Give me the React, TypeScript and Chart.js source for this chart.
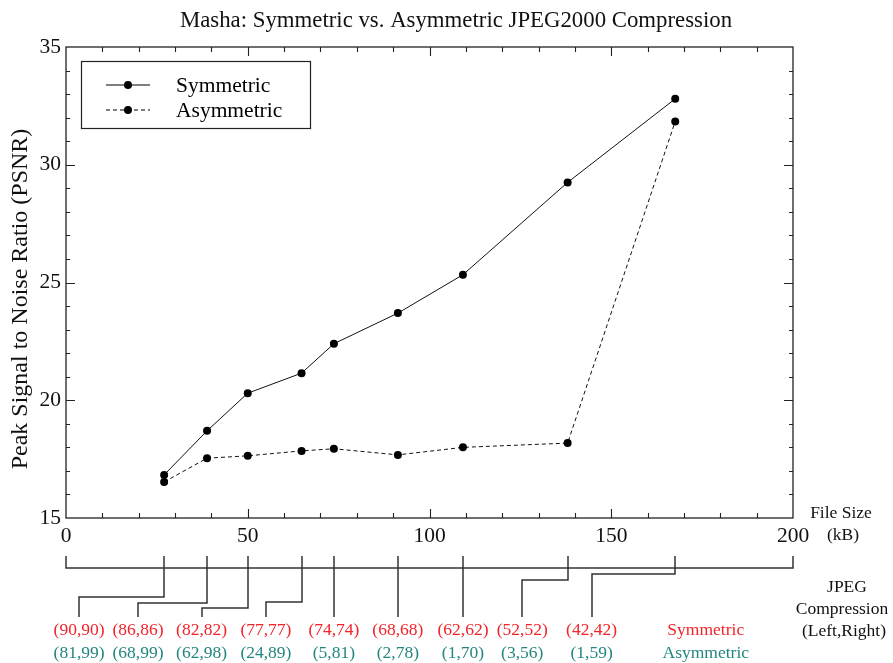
import React, { useEffect, useRef } from "react";
import { Chart, registerables } from "chart.js";

Chart.register(...registerables);

// ---------- data ----------
const fileSizesKB = [27, 38.8, 50, 64.8, 73.7, 91.3, 109.2, 138, 167.6];
const symmetricPsnr = [16.83, 18.7, 20.3, 21.15, 22.4, 23.7, 25.33, 29.25, 32.8];
const asymmetricPsnr = [16.53, 17.54, 17.64, 17.85, 17.94, 17.68, 18.0, 18.18, 31.84];
const symmetricQuality = ["(90,90)", "(86,86)", "(82,82)", "(77,77)", "(74,74)", "(68,68)", "(62,62)", "(52,52)", "(42,42)"];
const asymmetricQuality = ["(81,99)", "(68,99)", "(62,98)", "(24,89)", "(5,81)", "(2,78)", "(1,70)", "(3,56)", "(1,59)"];
const seriesNames = ["Symmetric", "Asymmetric"];
const xTickValues = [0, 50, 100, 150, 200];
const yTickValues = [15, 20, 25, 30, 35];

const TITLE = "Masha: Symmetric vs. Asymmetric JPEG2000 Compression";
const Y_TITLE = "Peak Signal to Noise Ratio (PSNR)";

// ---------- layout / style (not data) ----------
const FONT = "'Liberation Serif', 'Times New Roman', serif";
const RED = "#f2242a";
const TEAL = "#23877f";
// label centres for the compression annotations, in kB along the axis
const labelCentersKB = [3.6, 19.8, 37.3, 55.0, 73.7, 91.3, 109.2, 125.5, 144.6];
// how far below the bracket line each connector elbows (px)
const elbowDrop = [29, 35, 40, 34, 0, 0, 0, 12, 6];
const keyCenterKB = 176;

const W = 893;
const H = 663;

const decorPlugin = {
  id: "decor",
  beforeDatasetsDraw(chart: any) {
    const ctx = chart.ctx;
    const xs = chart.scales.x;
    const ys = chart.scales.y;
    const { left, right, top, bottom } = chart.chartArea;
    ctx.save();
    ctx.strokeStyle = "#222";
    ctx.lineWidth = 1.3;
    ctx.strokeRect(left, top, right - left, bottom - top);
    ctx.lineWidth = 1.1;
    ctx.beginPath();
    for (let v = 10; v < 200; v += 10) {
      const px = Math.round(xs.getPixelForValue(v)) + 0.5;
      const len = v % 50 === 0 ? 9 : 5;
      ctx.moveTo(px, bottom);
      ctx.lineTo(px, bottom - len);
      ctx.moveTo(px, top);
      ctx.lineTo(px, top + len);
    }
    for (let v = 16; v < 35; v += 1) {
      const py = Math.round(ys.getPixelForValue(v)) + 0.5;
      const len = v % 5 === 0 ? 9 : 4;
      ctx.moveTo(left, py);
      ctx.lineTo(left + len, py);
      ctx.moveTo(right, py);
      ctx.lineTo(right - len, py);
    }
    ctx.stroke();
    ctx.restore();
  },
  afterDraw(chart: any) {
    const ctx = chart.ctx;
    const xs = chart.scales.x;
    const { left, right, top, bottom } = chart.chartArea;
    ctx.save();

    // title
    ctx.fillStyle = "#111";
    ctx.font = `22.8px ${FONT}`;
    ctx.textAlign = "center";
    ctx.textBaseline = "middle";
    ctx.fillText(TITLE, 456, 21);

    // y title
    ctx.save();
    ctx.translate(21, 299);
    ctx.rotate(-Math.PI / 2);
    ctx.font = `24px ${FONT}`;
    ctx.fillText(Y_TITLE, 0, 0);
    ctx.restore();

    // legend
    const lx = 81, ly = 61, lw = 229, lh = 67;
    ctx.fillStyle = "#fff";
    ctx.fillRect(lx, ly, lw, lh);
    ctx.strokeStyle = "#222";
    ctx.lineWidth = 1.2;
    ctx.strokeRect(lx + 0.5, ly + 0.5, lw, lh);
    chart.data.datasets.forEach((ds: any, i: number) => {
      const y = ly + 24 + i * 25;
      ctx.beginPath();
      ctx.setLineDash(ds.borderDash || []);
      ctx.lineWidth = 1;
      ctx.strokeStyle = "#000";
      ctx.moveTo(106, y);
      ctx.lineTo(150, y);
      ctx.stroke();
      ctx.setLineDash([]);
      ctx.beginPath();
      ctx.fillStyle = "#000";
      ctx.arc(128, y, 4, 0, Math.PI * 2);
      ctx.fill();
      ctx.font = `21.5px ${FONT}`;
      ctx.textAlign = "left";
      ctx.textBaseline = "middle";
      ctx.fillText(ds.label, 176, y + 1);
    });

    // axis unit labels at right
    ctx.fillStyle = "#111";
    ctx.textAlign = "center";
    ctx.textBaseline = "middle";
    ctx.font = `17.5px ${FONT}`;
    ctx.fillText("File Size", 841, 513);
    ctx.fillText("(kB)", 843, 535);
    ctx.fillText("JPEG", 847, 587);
    ctx.fillText("Compression", 842, 609);
    ctx.fillText("(Left,Right)", 844, 631);

    // bracket
    const lineY = 568;
    const tickTop = 556;
    const labelTop = 617;
    ctx.strokeStyle = "#333";
    ctx.lineWidth = 1.5;
    ctx.beginPath();
    ctx.moveTo(left, tickTop);
    ctx.lineTo(left, lineY);
    ctx.lineTo(right, lineY);
    ctx.lineTo(right, tickTop);
    fileSizesKB.forEach((kb, i) => {
      const px = Math.round(xs.getPixelForValue(kb));
      const lxp = Math.round(xs.getPixelForValue(labelCentersKB[i]));
      ctx.moveTo(px, tickTop);
      if (elbowDrop[i] === 0) {
        ctx.lineTo(px, labelTop);
      } else {
        const ey = lineY + elbowDrop[i];
        ctx.lineTo(px, ey);
        ctx.lineTo(lxp, ey);
        ctx.lineTo(lxp, labelTop);
      }
    });
    ctx.stroke();

    ctx.font = `17.5px ${FONT}`;
    ctx.textAlign = "center";
    ctx.textBaseline = "middle";
    labelCentersKB.forEach((kb, i) => {
      const px = xs.getPixelForValue(kb);
      ctx.fillStyle = RED;
      ctx.fillText(symmetricQuality[i], px, 630);
      ctx.fillStyle = TEAL;
      ctx.fillText(asymmetricQuality[i], px, 653);
    });
    const kx = xs.getPixelForValue(keyCenterKB);
    ctx.fillStyle = RED;
    ctx.fillText(seriesNames[0], kx, 630);
    ctx.fillStyle = TEAL;
    ctx.fillText(seriesNames[1], kx, 653);

    ctx.restore();
  },
};

export default function App() {
  const ref = useRef<HTMLCanvasElement | null>(null);
  useEffect(() => {
    if (!ref.current) return;
    const chart = new Chart(ref.current, {
      type: "line",
      data: {
        datasets: [
          {
            label: seriesNames[0],
            data: fileSizesKB.map((x, i) => ({ x, y: symmetricPsnr[i] })),
            borderColor: "#111",
            borderWidth: 1,
            pointRadius: 4,
            pointBackgroundColor: "#000",
            pointBorderColor: "#000",
            pointBorderWidth: 0,
            tension: 0,
          },
          {
            label: seriesNames[1],
            data: fileSizesKB.map((x, i) => ({ x, y: asymmetricPsnr[i] })),
            borderColor: "#111",
            borderWidth: 1,
            borderDash: [4, 3],
            pointRadius: 4,
            pointBackgroundColor: "#000",
            pointBorderColor: "#000",
            pointBorderWidth: 0,
            tension: 0,
          },
        ],
      },
      options: {
        responsive: false,
        animation: false,
        events: [],
        layout: { padding: { top: 47, right: 100, left: 0, bottom: 0 } },
        plugins: { legend: { display: false }, title: { display: false }, tooltip: { enabled: false } },
        scales: {
          x: {
            type: "linear",
            min: 0,
            max: 200,
            afterBuildTicks: (s: any) => {
              s.ticks = xTickValues.map((v) => ({ value: v }));
            },
            afterFit: (s: any) => {
              s.height = H - 518;
            },
            grid: { display: false, drawTicks: false },
            border: { display: false },
            ticks: {
              color: "#111",
              font: { family: FONT, size: 21.5 },
              padding: 5,
              maxRotation: 0,
              autoSkip: false,
            },
          },
          y: {
            type: "linear",
            min: 15,
            max: 35,
            afterBuildTicks: (s: any) => {
              s.ticks = yTickValues.map((v) => ({ value: v }));
            },
            afterFit: (s: any) => {
              s.width = 66;
            },
            grid: { display: false, drawTicks: false },
            border: { display: false },
            ticks: {
              color: "#111",
              font: { family: FONT, size: 21.5 },
              padding: 5,
              autoSkip: false,
            },
          },
        },
      },
      plugins: [decorPlugin],
    });
    return () => chart.destroy();
  }, []);
  return (
    <div style={{ position: "absolute", left: 0, top: 0, width: W, height: H, background: "#fff" }}>
      <canvas ref={ref} width={W} height={H} style={{ display: "block", width: W, height: H }} />
    </div>
  );
}
